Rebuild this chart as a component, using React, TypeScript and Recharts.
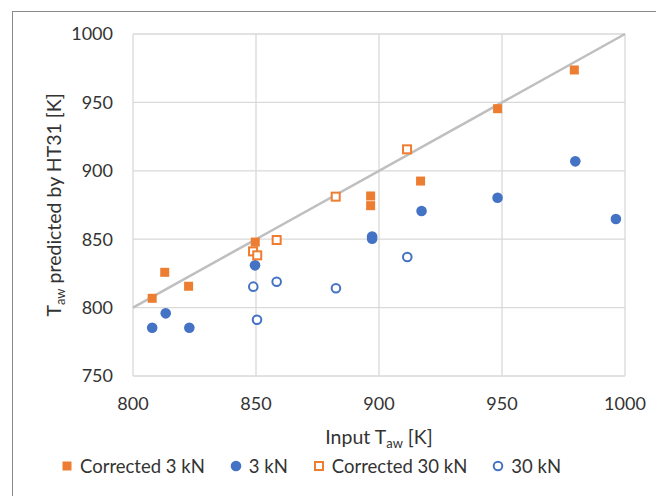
import React from "react";
import { CartesianGrid, Scatter, ScatterChart, XAxis, YAxis } from "recharts";

// values (input T_aw vs HT31 prediction, K)
const corrected3kN = [
  { x: 807.8, y: 806.8 },
  { x: 812.9, y: 825.8 },
  { x: 822.6, y: 815.6 },
  { x: 849.7, y: 847.9 },
  { x: 896.6, y: 881.6 },
  { x: 896.6, y: 874.5 },
  { x: 916.9, y: 892.5 },
  { x: 948.2, y: 945.4 },
  { x: 979.4, y: 973.7 },
];
const raw3kN = [
  { x: 807.8, y: 785.3 },
  { x: 813.3, y: 795.8 },
  { x: 822.9, y: 785.3 },
  { x: 849.6, y: 830.9 },
  { x: 897.2, y: 852.0 },
  { x: 897.2, y: 850.4 },
  { x: 917.3, y: 870.6 },
  { x: 948.2, y: 880.3 },
  { x: 979.8, y: 906.9 },
  { x: 996.3, y: 864.8 },
];
const corrected30kN = [
  { x: 848.8, y: 841.1 },
  { x: 850.5, y: 838.2 },
  { x: 858.4, y: 849.4 },
  { x: 882.4, y: 881.1 },
  { x: 911.4, y: 915.7 },
];
const raw30kN = [
  { x: 848.9, y: 815.3 },
  { x: 850.4, y: 791.1 },
  { x: 858.4, y: 818.9 },
  { x: 882.5, y: 814.1 },
  { x: 911.5, y: 837.0 },
];
const parity = [
  { x: 800, y: 800 },
  { x: 1000, y: 1000 },
];
const xTicks = [800, 850, 900, 950, 1000];
const yTicks = [750, 800, 850, 900, 950, 1000];

const ORANGE = "#ED7D31";
const BLUE = "#4472C4";
const FONT = "Lato, 'Open Sans', sans-serif";
const TEXT = "#333333";

const FilledSquare = ({ cx, cy }: any) =>
  cx == null ? null : <rect x={cx - 4.5} y={cy - 4.5} width={9} height={9} fill={ORANGE} />;
const FilledDot = ({ cx, cy }: any) =>
  cx == null ? null : <circle cx={cx} cy={cy} r={5.3} fill={BLUE} />;
const OpenSquare = ({ cx, cy }: any) =>
  cx == null ? null : (
    <rect x={cx - 4} y={cy - 4} width={8} height={8} fill="#fff" stroke={ORANGE} strokeWidth={2} />
  );
const OpenDot = ({ cx, cy }: any) =>
  cx == null ? null : <circle cx={cx} cy={cy} r={4.3} fill="#fff" stroke={BLUE} strokeWidth={2} />;
const NoMark = () => <g />;

function XTitle({ viewBox }: any) {
  const cx = viewBox.x + viewBox.width / 2;
  return (
    <text x={cx} y={viewBox.y + 68} textAnchor="middle" fill={TEXT} fontSize={19.5} fontFamily={FONT}>
      Input T
      <tspan dy={4} fontSize={13}>aw</tspan>
      <tspan dy={-4}> [K]</tspan>
    </text>
  );
}

function YTitle({ viewBox }: any) {
  const x = 61;
  const y = viewBox.y + viewBox.height / 2;
  return (
    <text
      x={x}
      y={y}
      transform={`rotate(-90 ${x} ${y})`}
      textAnchor="middle"
      fill={TEXT}
      fontSize={19.5}
      fontFamily={FONT}
    >
      T
      <tspan dy={4} fontSize={13}>aw</tspan>
      <tspan dy={-4}> predicted by HT31 [K]</tspan>
    </text>
  );
}

const legendItems = [
  { name: "Corrected 3 kN", Mark: FilledSquare },
  { name: "3 kN", Mark: FilledDot },
  { name: "Corrected 30 kN", Mark: OpenSquare },
  { name: "30 kN", Mark: OpenDot },
];

export default function App() {
  return (
    <div
      style={{
        position: "absolute",
        left: 0,
        top: 0,
        width: 656,
        height: 496,
        background: "#fff",
        overflow: "hidden",
        fontFamily: FONT,
      }}
    >
      <div
        style={{
          position: "absolute",
          left: 12,
          top: 11,
          width: 700,
          height: 600,
          borderLeft: "1px solid #8a8a8a",
          borderTop: "1px solid #8a8a8a",
        }}
      />
      <div style={{ position: "absolute", left: 0, top: 0 }}>
        <ScatterChart width={656} height={496} margin={{ top: 34, right: 31, left: 0, bottom: 0 }}>
          <CartesianGrid stroke="#d9d9d9" strokeWidth={1.3} />
          <XAxis
            type="number"
            dataKey="x"
            domain={[800, 1000]}
            ticks={xTicks}
            height={120}
            axisLine={false}
            tickLine={false}
            tickMargin={15}
            tick={{ fill: TEXT, fontSize: 18, fontFamily: FONT }}
            label={<XTitle />}
          />
          <YAxis
            type="number"
            dataKey="y"
            domain={[750, 1000]}
            ticks={yTicks}
            width={133}
            axisLine={false}
            tickLine={false}
            tickMargin={14}
            tick={{ fill: TEXT, fontSize: 18, fontFamily: FONT }}
            label={<YTitle />}
          />
          <Scatter
            data={parity}
            shape={NoMark}
            line={{ stroke: "#bfbfbf", strokeWidth: 2.5 }}
            isAnimationActive={false}
          />
          <Scatter data={corrected3kN} shape={FilledSquare} isAnimationActive={false} />
          <Scatter data={raw3kN} shape={FilledDot} isAnimationActive={false} />
          <Scatter data={corrected30kN} shape={OpenSquare} isAnimationActive={false} />
          <Scatter data={raw30kN} shape={OpenDot} isAnimationActive={false} />
        </ScatterChart>
      </div>
      <div
        style={{
          position: "absolute",
          left: 60,
          top: 455,
          display: "flex",
          alignItems: "center",
          fontSize: 18.5,
          color: TEXT,
          whiteSpace: "nowrap",
        }}
      >
        {legendItems.map(({ name, Mark }) => (
          <span key={name} style={{ display: "flex", alignItems: "center", marginRight: 24 }}>
            <svg width={14} height={14} style={{ marginRight: 6 }}>
              <Mark cx={7} cy={7} />
            </svg>
            {name}
          </span>
        ))}
      </div>
    </div>
  );
}
